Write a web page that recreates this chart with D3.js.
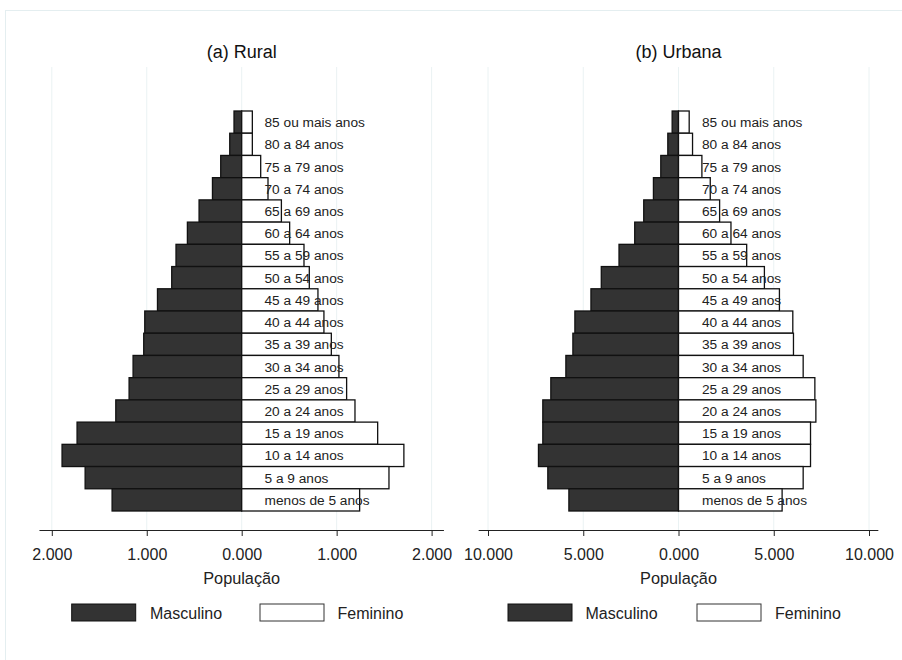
<!DOCTYPE html>
<html>
<head>
<meta charset="utf-8">
<script src="https://cdn.jsdelivr.net/npm/d3@7"></script>
<style>
  body { margin: 0; background: #fff; }
  svg { display: block; font-family: "Liberation Sans", Arial, sans-serif; }
</style>
</head>
<body>
<svg id="chart" width="902" height="660"></svg>
<script>
// Age groups, top to bottom
const ages = ["85 ou mais anos","80 a 84 anos","75 a 79 anos","70 a 74 anos","65 a 69 anos",
  "60 a 64 anos","55 a 59 anos","50 a 54 anos","45 a 49 anos","40 a 44 anos","35 a 39 anos",
  "30 a 34 anos","25 a 29 anos","20 a 24 anos","15 a 19 anos","10 a 14 anos","5 a 9 anos",
  "menos de 5 anos"];

// Rural
const ruralMasc = [81,126,221,308,449,572,692,737,887,1021,1032,1144,1186,1326,1734,1892,1649,1365];
const ruralFem  = [112,112,200,277,418,505,656,712,803,866,944,1024,1105,1193,1432,1708,1551,1242];
// Urbana
const urbMasc = [333,561,930,1316,1825,2298,3123,4053,4596,5439,5544,5912,6702,7123,7123,7351,6860,5754];
const urbFem  = [561,737,1228,1667,2158,2754,3579,4509,5298,6000,6035,6544,7158,7211,6930,6930,6544,5439];

const ruralTicks = [-2000,-1000,0,1000,2000];
const ruralTickLabels = ["2.000","1.000","0.000","1.000","2.000"];
const urbTicks = [-10000,-5000,0,5000,10000];
const urbTickLabels = ["10.000","5.000","0.000","5.000","10.000"];

const panelTitles = ["(a) Rural","(b) Urbana"];
const axisTitle = "População";
const legendLabels = ["Masculino","Feminino"];

const svg = d3.select("#chart");

// outer frame
svg.append("rect").attr("x",5.5).attr("y",10.5).attr("width",920).attr("height",700)
  .attr("fill","#fff").attr("stroke","#e4eef0").attr("stroke-width",1);

const y = d3.scaleBand().domain(ages).range([111, 511]).padding(0);

const panels = [
  {title: panelTitles[0], masc: ruralMasc, fem: ruralFem, max: 2000, range:[51.8,431.6],
   ticks: ruralTicks, labels: ruralTickLabels, ext: 2130, labelX: 264.5,
   legend: {box1: 71.7, text1: 150, box2: 260, text2: 337.5}},
  {title: panelTitles[1], masc: urbMasc, fem: urbFem, max: 10000, range:[488,869],
   ticks: urbTicks, labels: urbTickLabels, ext: 10490, labelX: 702,
   legend: {box1: 508, text1: 585.5, box2: 697, text2: 775}}
];

panels.forEach(p => {
  const x = d3.scaleLinear().domain([-p.max, p.max]).range(p.range);
  const g = svg.append("g");

  // gridlines
  g.selectAll("line.grid").data(p.ticks).join("line")
    .attr("x1", d => x(d)).attr("x2", d => x(d))
    .attr("y1", 67).attr("y2", 530)
    .attr("stroke", "#eaf2f3").attr("stroke-width", 1);

  // title
  g.append("text").attr("x", x(0)).attr("y", 58).attr("text-anchor","middle")
    .attr("font-size", 18).attr("fill","#111").text(p.title);

  // male bars
  g.selectAll("rect.m").data(ages).join("rect")
    .attr("x", (d,i) => x(-p.masc[i])).attr("y", d => y(d))
    .attr("width", (d,i) => x(0) - x(-p.masc[i])).attr("height", y.bandwidth())
    .attr("fill", "#333333").attr("stroke", "#111").attr("stroke-width", 1.3);

  // female bars
  g.selectAll("rect.f").data(ages).join("rect")
    .attr("x", x(0)).attr("y", d => y(d))
    .attr("width", (d,i) => x(p.fem[i]) - x(0)).attr("height", y.bandwidth())
    .attr("fill", "#fff").attr("stroke", "#111").attr("stroke-width", 1.3);

  // age labels
  g.selectAll("text.age").data(ages).join("text")
    .attr("x", p.labelX).attr("y", d => y(d) + y.bandwidth()/2 + 5)
    .attr("font-size", 13.7).attr("fill", "#222").text(d => d);

  // axis
  const axis = d3.axisBottom(x).tickValues(p.ticks)
    .tickFormat((d,i) => p.labels[i]).tickSize(6).tickSizeOuter(0);
  const ag = g.append("g").attr("transform","translate(0,530)").call(axis);
  ag.select(".domain").remove();
  ag.selectAll(".tick line").attr("stroke","#222");
  ag.selectAll(".tick text").attr("font-size", 16).attr("fill","#222")
    .attr("dy", null).attr("y", 30).attr("font-family","Liberation Sans, Arial, sans-serif");
  g.append("line").attr("x1", x(-p.ext)).attr("x2", x(p.ext))
    .attr("y1", 530.5).attr("y2", 530.5).attr("stroke","#222").attr("stroke-width",1.2);

  // axis title
  g.append("text").attr("x", x(0)).attr("y", 584).attr("text-anchor","middle")
    .attr("font-size", 16.3).attr("fill","#222").text(axisTitle);

  // legend
  g.append("rect").attr("x", p.legend.box1).attr("y", 604).attr("width", 64).attr("height", 17)
    .attr("fill","#333333").attr("stroke","#111").attr("stroke-width",1);
  g.append("text").attr("x", p.legend.text1).attr("y", 619).attr("font-size",16).attr("fill","#222")
    .text(legendLabels[0]);
  g.append("rect").attr("x", p.legend.box2).attr("y", 604).attr("width", 64).attr("height", 17)
    .attr("fill","#fff").attr("stroke","#333").attr("stroke-width",1);
  g.append("text").attr("x", p.legend.text2).attr("y", 619).attr("font-size",16).attr("fill","#222")
    .text(legendLabels[1]);
});
</script>
</body>
</html>
